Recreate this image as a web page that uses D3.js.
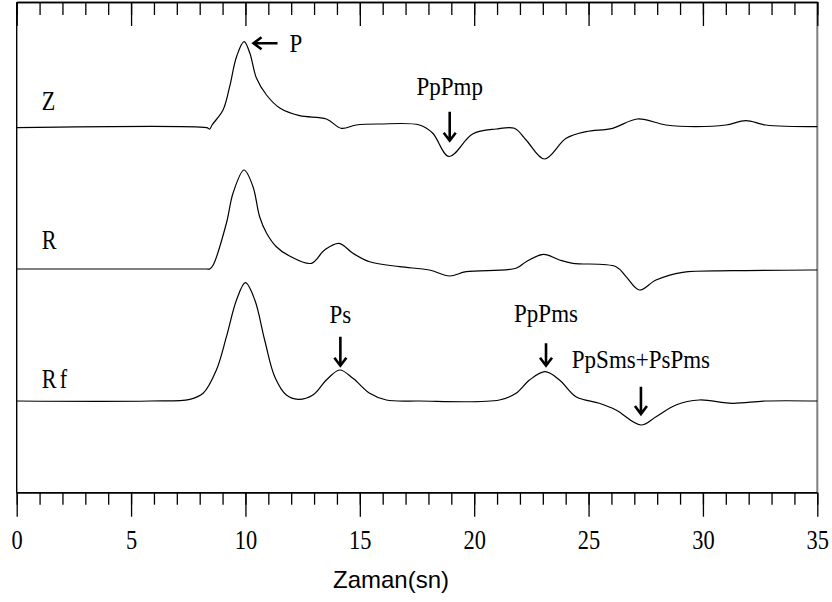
<!DOCTYPE html>
<html lang="tr">
  <head>
    <meta charset="UTF-8">
    <script src="https://cdn.jsdelivr.net/npm/d3@7"></script>
    <title>Z R Rf</title>
    <style>
      body { margin: 0; background: #fff; }
    </style>
  </head>
  <body>
    <script>
      let w = 832;
      let h = 602;
      let margin = {top: 2, right: 14.7, bottom: 109.3, left: 16.7};

      // time (s) ticks
      let majorTicks = [0, 5, 10, 15, 20, 25, 30, 35];
      let minorTicks = d3.range(0, 36, 1);

      // trace names and their baseline offsets (amplitude units)
      let traceNames = ['Z', 'R', 'Rf'];
      let traceOffsets = [3.65, 2.237, 0.917];

      // [time, amplitude]
      let traceZ = [
        [0, 0], [8.3, 0], [8.44, -0.013], [8.54, 0.027], [9.02, 0.177], [9.31, 0.41],
        [9.61, 0.71], [9.94, 0.86], [10.19, 0.747], [10.48, 0.497], [10.92, 0.327],
        [11.5, 0.197], [12.37, 0.12], [13.54, 0.087], [14.19, -0.006], [14.85, 0.027],
        [15.86, 0.037], [17.61, 0.027], [18.18, -0.053], [18.9, -0.288], [19.93, -0.063],
        [20.96, -0.013], [21.76, -0.006], [22.27, -0.123], [23.07, -0.313], [24.02, -0.106],
        [24.89, -0.04], [26.05, -0.006], [27.14, 0.087], [28.38, 0.027], [29.69, 0.01],
        [31.0, 0.027], [31.88, 0.07], [32.75, 0.027], [35, 0.01]
      ];
      let traceR = [
        [0, 0], [8.3, 0], [8.44, 0], [8.59, 0.04], [9.17, 0.46], [9.46, 0.76],
        [9.94, 0.99], [10.33, 0.823], [10.62, 0.523], [10.92, 0.36], [11.35, 0.223],
        [11.93, 0.13], [12.88, 0.057], [13.46, 0.19], [14.09, 0.257], [14.7, 0.157],
        [15.43, 0.073], [16.74, 0.023], [18.04, -0.01], [18.92, -0.07], [19.65, -0.027],
        [21.83, 0.007], [22.27, 0.073], [23.03, 0.147], [23.73, 0.09], [24.31, 0.057],
        [26.2, 0.023], [26.64, -0.077], [27.22, -0.21], [27.95, -0.11], [29.11, -0.033],
        [31.28, -0.017], [34.86, -0.01], [35, -0.01]
      ];
      let traceRf = [
        [0, 0], [5.82, 0], [7.57, 0.017], [8.15, 0.077], [8.73, 0.31], [9.17, 0.643],
        [9.61, 1.01], [10.0, 1.183], [10.41, 1.01], [10.84, 0.61], [11.28, 0.243],
        [11.79, 0.06], [12.3, 0.017], [12.95, 0.06], [13.54, 0.21], [14.12, 0.31],
        [14.7, 0.227], [15.43, 0.077], [16.16, 0.01], [17.61, 0], [21.1, 0.01],
        [21.83, 0.077], [22.42, 0.21], [23.1, 0.293], [23.73, 0.21], [24.45, 0.043],
        [25.47, -0.023], [26.2, -0.09], [27.29, -0.24], [27.95, -0.157], [28.82, -0.04],
        [29.84, 0.01], [31.29, -0.023], [32.75, 0], [35, 0]
      ];
      let traces = [traceZ, traceR, traceRf];

      // phase annotations
      let phaseLabels = ['P', 'PpPmp', 'Ps', 'PpPms', 'PpSms+PsPms'];
      let phaseTrace = [0, 0, 2, 2, 2];
      let phaseTime = [10.31, 18.93, 14.15, 23.14, 27.29];
      let phaseAmp = [0.844, -0.14, 0.343, 0.343, -0.14];

      let iw = w - margin.left - margin.right;
      let ih = h - margin.top - margin.bottom;

      let xScale = d3.scaleLinear().domain([0, 35]).range([0, iw]);
      let yScale = d3.scaleLinear().domain([0, 4.907]).range([ih, 0]);

      let svg = d3.select('body')
                  .append('svg')
                  .attr('width', w)
                  .attr('height', h);

      let g = svg.append('g')
                 .attr('transform', `translate(${margin.left},${margin.top})`);

      let serif = '"Liberation Serif", "Times New Roman", serif';

      // frame sides
      g.append('line')
        .attr('x1', 0).attr('x2', 0).attr('y1', 0).attr('y2', ih)
        .attr('stroke', '#000').attr('stroke-width', 1.4);
      g.append('line')
        .attr('x1', iw).attr('x2', iw).attr('y1', 0).attr('y2', ih)
        .attr('stroke', '#808080').attr('stroke-width', 2);

      // bottom axis: minor + major ticks pointing out
      let bottomMinor = g.append('g')
        .attr('transform', `translate(0,${ih})`)
        .call(d3.axisBottom(xScale).tickValues(minorTicks).tickSize(12).tickFormat(''));
      let bottomMajor = g.append('g')
        .attr('transform', `translate(0,${ih})`)
        .call(d3.axisBottom(xScale).tickValues(majorTicks).tickSize(24).tickFormat(d3.format('d')));
      bottomMajor.selectAll('text')
        .attr('y', 0).attr('dy', 0)
        .attr('transform', 'translate(0,56.5) scale(0.8,1)')
        .attr('font-family', serif)
        .attr('font-size', '28px')
        .attr('fill', '#000');

      // top axis: ticks pointing in
      let topMinor = g.append('g')
        .call(d3.axisTop(xScale).tickValues(minorTicks).tickSizeInner(-13).tickSizeOuter(0).tickFormat(''));
      let topMajor = g.append('g')
        .call(d3.axisTop(xScale).tickValues(majorTicks).tickSizeInner(-24).tickSizeOuter(0).tickFormat(''));

      [bottomMinor, bottomMajor, topMinor, topMajor].forEach(a => {
        a.selectAll('line').attr('stroke', '#000').attr('stroke-width', 1.3);
        a.select('.domain').attr('stroke', '#000').attr('stroke-width', 1.4);
      });
      bottomMinor.select('.domain').attr('d', `M0,0H${iw}`);
      bottomMajor.select('.domain').attr('d', `M0,0H${iw}`);

      // traces
      let line = d3.line()
        .x(d => xScale(d[0]))
        .curve(d3.curveCatmullRom.alpha(0.5));

      traces.forEach((tr, i) => {
        g.append('path')
          .datum(tr)
          .attr('fill', 'none')
          .attr('stroke', '#000')
          .attr('stroke-width', 1.2)
          .attr('d', line.y(d => yScale(d[1] + traceOffsets[i])));
      });

      // trace names
      let nameBaseline = [-17.7, -19.7, -13];
      g.selectAll('.trace-name')
        .data(traceNames)
        .enter()
        .append('text')
        .attr('class', 'trace-name')
        .text(d => d)
        .attr('transform', (d, i) => `translate(25,${yScale(traceOffsets[i]) + nameBaseline[i]}) scale(0.82,1)`)
        .attr('letter-spacing', d => d === 'Rf' ? '4px' : null)
        .attr('font-family', serif)
        .attr('font-size', '27px')
        .attr('fill', '#000');

      // annotations
      let arrowLen = [25, 30, 30, 23.4, 28.3];
      let labelGap = [0, 17.2, 13.5, 21.8, 18.5];

      phaseLabels.forEach((lab, i) => {
        let tx = xScale(phaseTime[i]);
        let ty = yScale(phaseAmp[i] + traceOffsets[phaseTrace[i]]);
        let path, lx, ly, anchor;
        if (lab === 'P') {
          let tail = tx + arrowLen[i];
          path = `M${tail},${ty}L${tx + 1},${ty}M${tx + 9},${ty - 6}L${tx + 1},${ty}L${tx + 9},${ty + 6}`;
          lx = tail + 12; ly = ty + 8.4; anchor = 'start';
        } else {
          let top = ty - arrowLen[i];
          path = `M${tx},${top}L${tx},${ty - 1}M${tx - 6},${ty - 9}L${tx},${ty - 1}L${tx + 6},${ty - 9}`;
          lx = tx; ly = top - labelGap[i]; anchor = 'middle';
        }
        g.append('path')
          .attr('d', path)
          .attr('fill', 'none')
          .attr('stroke', '#000')
          .attr('stroke-width', 2.6);
        g.append('text')
          .text(lab)
          .attr('transform', `translate(${lx},${ly}) scale(0.92,1)`)
          .attr('text-anchor', anchor)
          .attr('font-family', serif)
          .attr('font-size', '25px')
          .attr('fill', '#000');
      });

      // x title
      svg.append('text')
        .text('Zaman(sn)')
        .attr('x', 391)
        .attr('y', 588)
        .attr('text-anchor', 'middle')
        .attr('font-family', '"Liberation Sans", Arial, sans-serif')
        .attr('font-size', '24px')
        .attr('fill', '#000');
    </script>
  </body>
</html>
